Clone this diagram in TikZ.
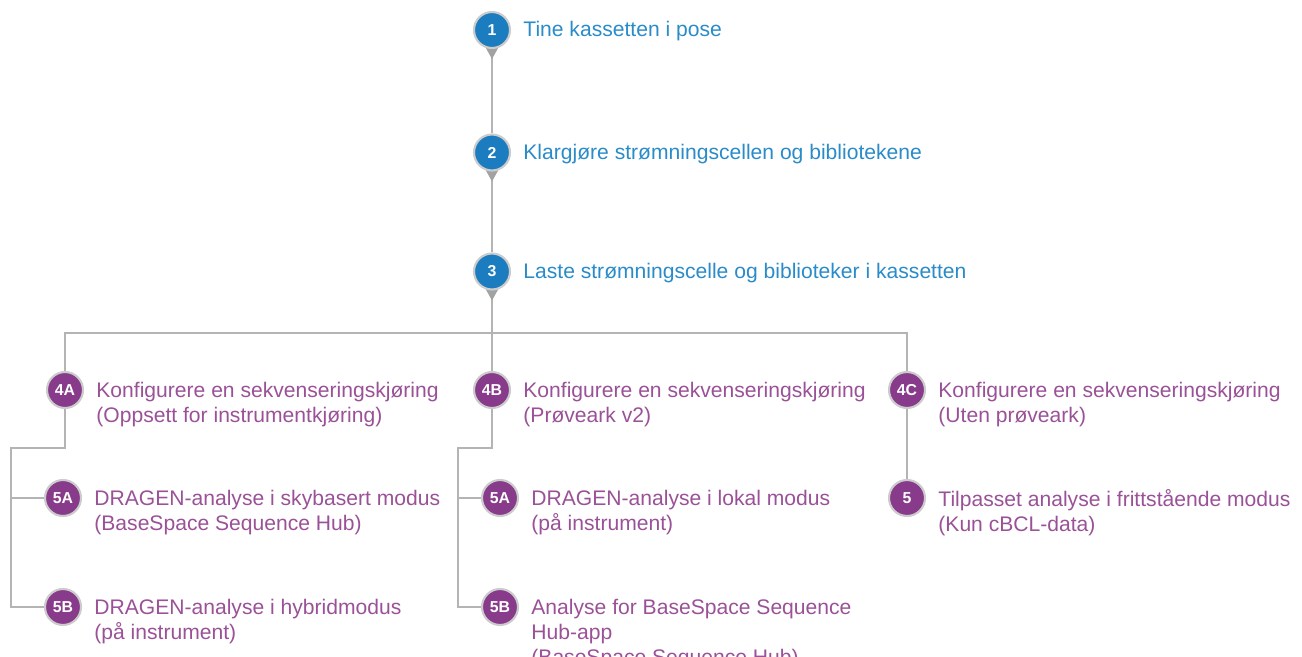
\documentclass[tikz,border=0pt]{standalone}
\usepackage{fontspec}
\setmainfont{Liberation Sans}
\usetikzlibrary{positioning,backgrounds}

\definecolor{stepblue}{HTML}{1B7DC0}
\definecolor{textblue}{HTML}{2A8BC9}
\definecolor{steppurple}{HTML}{873B8A}
\definecolor{textpurple}{HTML}{9A5197}
\definecolor{linegray}{HTML}{B4B4B4}

\tikzset{
  bluestep/.style={circle,fill=stepblue,draw=gray!40,line width=1.2pt,
    minimum size=0.72cm,inner sep=0pt,text=white,
    font=\fontsize{9}{9}\selectfont\bfseries},
  purplestep/.style={bluestep,fill=steppurple},
  bluetext/.style={text=textblue,font=\fontsize{12}{14.2}\selectfont,
    align=left,inner sep=0pt},
  purpletext/.style={bluetext,text=textpurple},
  link/.style={draw=linegray,line width=1.2pt},
  pin/.style={fill=linegray!90!black},
}

\begin{document}
\begin{tikzpicture}
    \useasboundingbox (0,0) rectangle (26.04,-13.14);

    %% steps 1-3
    \node[bluestep] (c1) at (9.84,-0.60) {1};
    \node[bluestep] (c2) at (9.84,-3.05) {2};
    \node[bluestep] (c3) at (9.84,-5.43) {3};
    \node[bluetext,right=0.24cm of c1.east,anchor=north west,yshift=0.18cm] (t1) {Tine kassetten i pose};
    \node[bluetext,right=0.24cm of c2.east,anchor=north west,yshift=0.18cm] (t2) {Klargjøre strømningscellen og bibliotekene};
    \node[bluetext,right=0.24cm of c3.east,anchor=north west,yshift=0.18cm] (t3) {Laste strømningscelle og biblioteker i kassetten};

    %% step 4
    \node[purplestep] (c4a) at (1.30,-7.80) {4A};
    \node[purplestep] (c4b) at (9.84,-7.80) {4B};
    \node[purplestep] (c4c) at (18.14,-7.80) {4C};
    \node[purpletext,right=0.24cm of c4a.east,anchor=north west,yshift=0.17cm] (t4a) {Konfigurere en sekvenseringskjøring\\(Oppsett for instrumentkjøring)};
    \node[purpletext,right=0.24cm of c4b.east,anchor=north west,yshift=0.17cm] (t4b) {Konfigurere en sekvenseringskjøring\\(Prøveark v2)};
    \node[purpletext,right=0.24cm of c4c.east,anchor=north west,yshift=0.17cm] (t4c) {Konfigurere en sekvenseringskjøring\\(Uten prøveark)};

    %% step 5
    \node[purplestep] (c5al) at (1.26,-9.96) {5A};
    \node[purplestep] (c5bl) at (1.26,-12.14) {5B};
    \node[purplestep] (c5am) at (10.0,-9.96) {5A};
    \node[purplestep] (c5bm) at (10.0,-12.14) {5B};
    \node[purplestep] (c5) at (18.14,-9.96) {5};
    \node[purpletext,right=0.24cm of c5al.east,anchor=north west,yshift=0.17cm] (t5al) {DRAGEN-analyse i skybasert modus\\(BaseSpace Sequence Hub)};
    \node[purpletext,right=0.24cm of c5bl.east,anchor=north west,yshift=0.17cm] (t5bl) {DRAGEN-analyse i hybridmodus\\(på instrument)};
    \node[purpletext,right=0.24cm of c5am.east,anchor=north west,yshift=0.17cm] (t5am) {DRAGEN-analyse i lokal modus\\(på instrument)};
    \node[purpletext,right=0.24cm of c5bm.east,anchor=north west,yshift=0.17cm] (t5bm) {Analyse for BaseSpace Sequence\\Hub-app\\(BaseSpace Sequence Hub)};
    \node[purpletext,right=0.24cm of c5.east,anchor=north west,yshift=0.17cm] (t5) {Tilpasset analyse i frittstående modus\\(Kun cBCL-data)};

    \coordinate (split) at (9.84,-6.66);
    \coordinate (ja) at (0.22,-8.96);
    \coordinate (jb) at (9.16,-8.96);

    \begin{scope}[on background layer]
      %% main line
      \draw[link] (c1) -- (c2) -- (c3) -- (c4b);
      \draw[link] (c4a) |- (split) -| (c4c);
      \draw[link] (c4c) -- (c5);
      %% branches
      \draw[link] (c4a) |- (ja) |- (c5bl);
      \draw[link] (ja |- c5al) -- (c5al);
      \draw[link] (c4b) |- (jb) |- (c5bm);
      \draw[link] (jb |- c5am) -- (c5am);
      %% pins
      \foreach \n in {c1,c2,c3}
        \fill[pin] ([xshift=-0.2cm,yshift=-0.22cm]\n.center) -- ([xshift=0.2cm,yshift=-0.22cm]\n.center) -- ([yshift=-0.58cm]\n.center) -- cycle;
    \end{scope}
\end{tikzpicture}
\end{document}
